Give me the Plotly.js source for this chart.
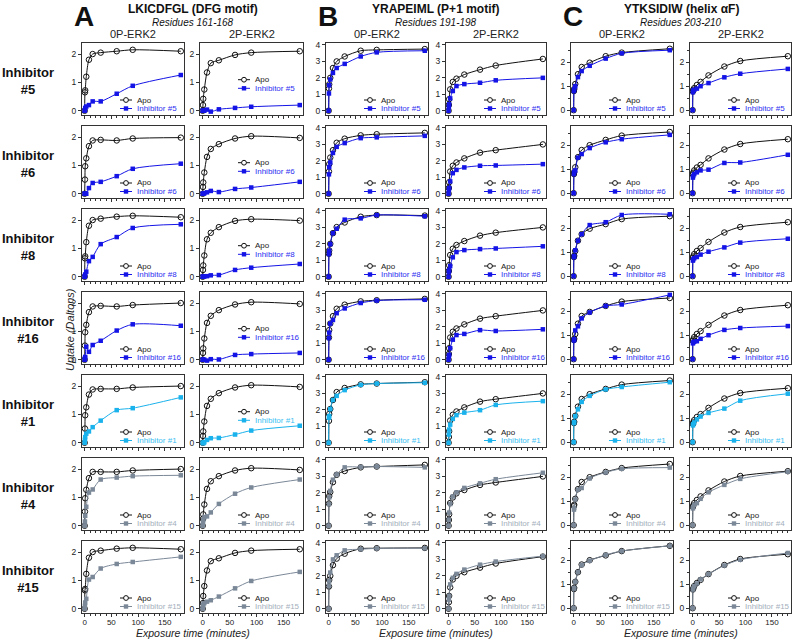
<!DOCTYPE html>
<html><head><meta charset="utf-8">
<script src="https://cdn.plot.ly/plotly-3.0.1.min.js"></script>
<style>body{margin:0;background:#fff}#chart{width:793px;height:640px}</style>
</head><body><div id="chart"></div>
<script>
// ---------------- DATA ----------------
const TIMES = [0, 0.5, 1, 3, 8, 15, 30, 60, 90, 180];
const INHIBITORS = ['#5', '#6', '#8', '#16', '#1', '#4', '#15'];
const STATES = ['0P-ERK2', '2P-ERK2'];
const PEPTIDES = ['LKICDFGL (DFG motif)', 'YRAPEIML (P+1 motif)', 'YTKSIDIW (helix αF)'];
const RESIDUES = ['Residues 161-168', 'Residues 191-198', 'Residues 203-210'];
const PANEL_LETTERS = ['A', 'B', 'C'];
const X_TICKS = [0, 50, 100, 150];

// Column A, 0P-ERK2 (rows: #5, #6, #8, #16, #1, #4, #15)
const A0_apo = [
  [0, 0.65, 0.72, 1.2, 1.8, 2.0, 2.05, 2.1, 2.15, 2.1],
  [0, 0.5, 0.97, 1.25, 1.68, 1.88, 1.9, 1.88, 1.95, 1.98],
  [0, 0.65, 0.72, 1.22, 1.8, 2.0, 2.05, 2.12, 2.15, 2.1],
  [0, 0.5, 0.97, 1.23, 1.68, 1.88, 1.9, 1.88, 1.93, 2.0],
  [0, 0.5, 0.97, 1.25, 1.7, 1.88, 1.9, 1.9, 1.95, 2.0],
  [0, 0.5, 0.97, 1.27, 1.68, 1.9, 1.9, 1.9, 1.95, 2.0],
  [0, 0.65, 0.7, 1.23, 1.8, 2.0, 2.05, 2.12, 2.15, 2.1]
];
const A0_inh = [
  [0, 0.02, 0.1, 0.15, 0.2, 0.33, 0.33, 0.6, 0.88, 1.26],
  [0, 0, 0, 0, 0.2, 0.38, 0.42, 0.62, 0.88, 1.06],
  [0, 0.03, 0.08, 0.18, 0.55, 0.7, 1.15, 1.4, 1.72, 1.85],
  [0, 0.05, 0.1, 0.46, 0.28, 0.52, 0.67, 1.03, 1.25, 1.2],
  [0, 0.1, 0.2, 0.32, 0.4, 0.55, 0.78, 1.15, 1.22, 1.6],
  [0, 0.15, 0.35, 0.67, 1.17, 1.28, 1.63, 1.7, 1.75, 1.78],
  [0, 0.1, 0.22, 0.35, 1.03, 1.12, 1.42, 1.58, 1.65, 1.83]
];
// Column A, 2P-ERK2
const A2_apo = [
  [0, 0.2, 0.42, 0.75, 1.35, 1.68, 1.78, 1.97, 2.05, 2.1],
  [0, 0.24, 0.4, 0.75, 1.3, 1.58, 1.75, 1.95, 2.03, 1.97],
  [0, 0.24, 0.4, 0.75, 1.32, 1.55, 1.75, 1.97, 2.03, 1.98],
  [0, 0.24, 0.4, 0.75, 1.3, 1.55, 1.75, 1.95, 2.03, 1.97],
  [0, 0.24, 0.4, 0.75, 1.3, 1.55, 1.75, 1.95, 2.03, 1.97],
  [0, 0.24, 0.4, 0.75, 1.3, 1.57, 1.75, 1.95, 2.03, 1.97],
  [0, 0.2, 0.45, 0.8, 1.35, 1.68, 1.78, 1.97, 2.05, 2.1]
];
const A2_inh = [
  [0, 0, 0, 0, 0.04, -0.03, 0.05, 0.1, 0.14, 0.2],
  [0, 0, 0, 0.02, 0.05, 0.1, 0.06, 0.17, 0.22, 0.42],
  [0, 0, 0, 0.01, 0.02, 0.05, 0.06, 0.24, 0.32, 0.45],
  [0, 0, 0, 0, -0.03, 0.02, 0.01, 0.17, 0.2, 0.24],
  [0, 0, -0.02, 0.02, 0.1, 0.16, 0.17, 0.29, 0.43, 0.6],
  [0, 0.12, 0.2, 0.3, 0.33, 0.47, 0.77, 1.13, 1.35, 1.63],
  [0, 0.1, 0.15, 0.2, 0.25, 0.3, 0.43, 0.72, 0.98, 1.3]
];
// Column B, 0P-ERK2
const B0_apo = [
  [0, 1.35, 1.6, 2.0, 2.6, 3.0, 3.3, 3.65, 3.7, 3.75],
  [0, 1.35, 1.8, 2.2, 2.65, 3.1, 3.35, 3.55, 3.62, 3.7],
  [0, 1.4, 1.6, 2.0, 2.65, 3.02, 3.3, 3.65, 3.75, 3.72],
  [0, 1.35, 1.8, 2.2, 2.65, 3.1, 3.35, 3.55, 3.62, 3.7],
  [0, 1.33, 1.75, 2.05, 2.6, 3.08, 3.33, 3.55, 3.6, 3.68],
  [0, 1.35, 1.8, 2.05, 2.65, 3.1, 3.33, 3.55, 3.6, 3.7],
  [0, 1.35, 1.75, 2.0, 2.65, 3.05, 3.35, 3.65, 3.68, 3.7]
];
const B0_inh = [
  [0, 1.05, 1.55, 1.9, 2.3, 2.6, 2.85, 3.3, 3.55, 3.65],
  [0, 1.18, 1.62, 1.9, 2.48, 2.85, 3.08, 3.38, 3.43, 3.52],
  [0, 1.38, 1.58, 1.98, 2.65, 2.92, 3.47, 3.55, 3.75, 3.68],
  [0, 1.32, 1.65, 2.2, 2.42, 2.83, 3.12, 3.45, 3.6, 3.65],
  [0, 1.52, 1.62, 2.05, 2.6, 2.85, 3.2, 3.52, 3.6, 3.65],
  [0, 1.32, 1.72, 2.12, 2.8, 3.12, 3.55, 3.57, 3.6, 3.55],
  [0, 1.4, 1.68, 2.2, 3.0, 3.25, 3.55, 3.62, 3.67, 3.68]
];
// Column B, 2P-ERK2
const B2_apo = [
  [0, 0.35, 0.7, 1.3, 1.75, 1.95, 2.2, 2.5, 2.75, 3.15],
  [0, 0.35, 0.7, 1.35, 1.7, 1.9, 2.15, 2.5, 2.65, 3.0],
  [0, 0.35, 0.7, 1.32, 1.7, 1.93, 2.17, 2.5, 2.68, 3.0],
  [0, 0.35, 0.7, 1.35, 1.7, 1.9, 2.15, 2.5, 2.65, 3.0],
  [0, 0.35, 0.7, 1.35, 1.7, 1.9, 2.15, 2.5, 2.65, 3.0],
  [0, 0.35, 0.7, 1.38, 1.72, 1.97, 2.17, 2.48, 2.63, 3.0],
  [0, 0.4, 0.78, 1.3, 1.78, 2.0, 2.22, 2.5, 2.75, 3.17]
];
const B2_inh = [
  [0, 0.25, 0.4, 0.75, 1.2, 1.5, 1.62, 1.7, 1.85, 2.0],
  [0, 0.25, 0.35, 0.75, 1.25, 1.45, 1.6, 1.7, 1.72, 1.8],
  [0, 0.3, 0.4, 0.65, 1.18, 1.5, 1.62, 1.68, 1.72, 1.85],
  [0, 0.22, 0.3, 0.7, 1.22, 1.5, 1.57, 1.8, 1.75, 1.85],
  [0, 0.5, 0.8, 1.1, 1.45, 1.68, 1.83, 1.98, 2.3, 2.53],
  [0, 0.36, 0.8, 1.32, 1.78, 2.02, 2.3, 2.58, 2.83, 3.22],
  [0, 0.55, 0.78, 1.48, 1.88, 2.12, 2.38, 2.68, 2.87, 3.2]
];
// Column C, 0P-ERK2
const C0_apo = [
  [0, 0.8, 0.88, 1.09, 1.5, 1.8, 1.98, 2.25, 2.4, 2.56],
  [0, 0.8, 0.88, 1.08, 1.5, 1.8, 2.0, 2.22, 2.4, 2.55],
  [0, 0.8, 0.85, 1.05, 1.48, 1.75, 1.98, 2.17, 2.38, 2.5],
  [0, 0.8, 0.85, 1.05, 1.48, 1.8, 1.97, 2.22, 2.4, 2.55],
  [0, 0.8, 0.85, 1.1, 1.48, 1.8, 2.0, 2.22, 2.4, 2.57],
  [0, 0.8, 0.85, 1.1, 1.5, 1.8, 2.0, 2.22, 2.38, 2.55],
  [0, 0.8, 0.85, 1.1, 1.5, 1.82, 2.0, 2.2, 2.38, 2.6]
];
const C0_inh = [
  [0, 0.8, 0.88, 1.0, 1.38, 1.63, 1.85, 2.15, 2.37, 2.5],
  [0, 0.8, 0.88, 0.95, 1.48, 1.63, 1.88, 2.12, 2.25, 2.43],
  [0, 0.8, 0.84, 1.08, 1.48, 1.75, 2.13, 2.25, 2.55, 2.58],
  [0, 0.78, 0.83, 1.2, 1.37, 1.7, 1.95, 2.22, 2.28, 2.68],
  [0, 0.8, 0.84, 1.08, 1.37, 1.68, 1.93, 2.2, 2.3, 2.5],
  [0, 0.65, 0.72, 1.07, 1.48, 1.55, 1.95, 2.2, 2.35, 2.4],
  [0, 0.82, 0.84, 1.1, 1.5, 1.8, 1.98, 2.22, 2.38, 2.6]
];
// Column C, 2P-ERK2
const C2_apo = [
  [0, 0.78, 0.85, 0.92, 1.05, 1.18, 1.45, 1.82, 2.05, 2.25],
  [0, 0.78, 0.85, 0.95, 1.07, 1.18, 1.45, 1.82, 2.05, 2.25],
  [0, 0.76, 0.82, 0.92, 1.05, 1.17, 1.43, 1.82, 2.05, 2.25],
  [0, 0.76, 0.82, 0.92, 1.05, 1.17, 1.43, 1.82, 2.05, 2.25],
  [0, 0.76, 0.82, 0.92, 1.05, 1.17, 1.43, 1.82, 2.05, 2.25],
  [0, 0.76, 0.82, 0.92, 1.05, 1.2, 1.45, 1.82, 2.05, 2.25],
  [0, 0.78, 0.82, 0.92, 1.05, 1.18, 1.42, 1.8, 2.05, 2.25]
];
const C2_inh = [
  [0, 0.75, 0.82, 0.85, 0.9, 1.0, 1.13, 1.37, 1.52, 1.72],
  [0, 0.65, 0.72, 0.8, 0.87, 0.95, 0.98, 1.26, 1.28, 1.6],
  [0, 0.65, 0.7, 0.75, 0.8, 0.9, 1.02, 1.2, 1.4, 1.56],
  [0, 0.66, 0.7, 0.73, 0.75, 0.85, 1.0, 1.22, 1.3, 1.38],
  [0, 0.7, 0.75, 0.82, 0.95, 1.07, 1.22, 1.4, 1.73, 2.02],
  [0, 0.7, 0.76, 0.85, 0.92, 1.1, 1.37, 1.68, 1.93, 2.23],
  [0, 0.78, 0.82, 0.92, 1.03, 1.2, 1.42, 1.78, 2.02, 2.3]
];

// ---------------- STYLE / LAYOUT ----------------
const W = 793, H = 640;
const FONT = 'Liberation Sans, Arial, Helvetica, sans-serif';
const COL_LEFT = [82, 200, 326, 446, 571, 690];
const COL_RIGHT = [184, 303, 428, 546, 673, 791];
const ROW_TOP0 = 43, ROW_PITCH = 83, ROW_H = 72;
const YRANGES = [[-0.15, 2.39], [-0.15, 2.39], [-0.26, 4.12], [-0.26, 4.12], [-0.2, 2.8], [-0.2, 2.8]];
const YMINOR = [false, false, false, false, true, true];
const INH_COLORS = ['#1414e6', '#1414e6', '#1414e6', '#1414e6', '#1ab2ec', '#7b8898', '#7b8898'];
const INH_TEXT = ['#2e2ef0', '#2e2ef0', '#2e2ef0', '#2e2ef0', '#3cbff2', '#a4afbb', '#a4afbb'];
const APO_COLOR = '#111111';
const AXIS_COLOR = '#333333';

const APO = [A0_apo, A2_apo, B0_apo, B2_apo, C0_apo, C2_apo];
const INH = [A0_inh, A2_inh, B0_inh, B2_inh, C0_inh, C2_inh];

const px = v => v / W;
const py = v => 1 - v / H;

const traces = [];
const annotations = [];
const shapes = [];
const layout = {
  width: W, height: H,
  margin: {l: 0, r: 0, t: 0, b: 0, pad: 0},
  paper_bgcolor: '#ffffff', plot_bgcolor: '#ffffff',
  showlegend: false,
  font: {family: FONT, color: '#222', size: 8}
};

for (let r = 0; r < 7; r++) {
  const top = ROW_TOP0 + r * ROW_PITCH, bot = top + ROW_H;
  for (let c = 0; c < 6; c++) {
    const k = r * 6 + c + 1;
    const sfx = k === 1 ? '' : String(k);
    const L = COL_LEFT[c], R = COL_RIGHT[c];
    layout['xaxis' + sfx] = {
      domain: [px(L), px(R)], anchor: 'y' + sfx, range: [-5, 186],
      tickvals: X_TICKS, ticks: 'outside', ticklen: 3, tickwidth: 1, tickcolor: AXIS_COLOR,
      minor: {dtick: 10, tick0: 0, ticks: 'outside', ticklen: 2, tickwidth: 1, tickcolor: AXIS_COLOR},
      showticklabels: r === 6, tickfont: {size: 8, color: '#222', family: FONT},
      ticklabelstandoff: -2,
      showline: true, mirror: true, linecolor: AXIS_COLOR, linewidth: 1,
      showgrid: false, zeroline: false, fixedrange: true
    };
    const ya = {
      domain: [py(bot), py(top)], anchor: 'x' + sfx, range: YRANGES[c],
      dtick: 1, tick0: 0, ticks: 'outside', ticklen: 3, tickwidth: 1, tickcolor: AXIS_COLOR,
      tickfont: {size: 8.5, color: '#222', family: FONT},
      showline: true, mirror: true, linecolor: AXIS_COLOR, linewidth: 1,
      showgrid: false, zeroline: false, fixedrange: true
    };
    if (YMINOR[c]) ya.minor = {dtick: 0.5, tick0: 0, ticks: 'outside', ticklen: 2, tickwidth: 1, tickcolor: AXIS_COLOR};
    layout['yaxis' + sfx] = ya;

    const name = 'Inhibitor ' + INHIBITORS[r];
    traces.push({
      x: TIMES, y: APO[c][r], xaxis: 'x' + sfx, yaxis: 'y' + sfx, name: 'Apo',
      type: 'scatter', mode: 'lines+markers', cliponaxis: false,
      line: {shape: 'spline', smoothing: 0.8, color: APO_COLOR, width: 1},
      marker: {symbol: 'circle-open', size: 5.5, color: APO_COLOR, line: {width: 1, color: APO_COLOR}}
    });
    traces.push({
      x: TIMES, y: INH[c][r], xaxis: 'x' + sfx, yaxis: 'y' + sfx, name: name,
      type: 'scatter', mode: 'lines+markers', cliponaxis: false,
      line: {shape: 'spline', smoothing: 0.8, color: INH_COLORS[r], width: 1},
      marker: {symbol: 'square', size: 4.5, color: INH_COLORS[r]}
    });

    // legend (drawn as decorations so that its spacing matches the figure)
    const rowsY = (c === 1 && r <= 4) ? [top + 36.7, top + 45.3] : [bot - 15, bot - 6.5];
    const entries = [
      {y: rowsY[0], color: APO_COLOR, text: 'Apo', textColor: '#222', open: true},
      {y: rowsY[1], color: INH_COLORS[r], text: name, textColor: INH_TEXT[r], open: false}
    ];
    entries.forEach(e => {
      shapes.push({type: 'line', xref: 'paper', yref: 'paper',
        x0: px(L + 38), x1: px(L + 50), y0: py(e.y), y1: py(e.y),
        line: {color: e.color, width: 1}});
      if (e.open) {
        shapes.push({type: 'circle', xref: 'paper', yref: 'paper',
          x0: px(L + 41.6), x1: px(L + 46.4), y0: py(e.y + 2.4), y1: py(e.y - 2.4),
          line: {color: e.color, width: 1}, fillcolor: '#ffffff'});
      } else {
        shapes.push({type: 'rect', xref: 'paper', yref: 'paper',
          x0: px(L + 41.8), x1: px(L + 46.2), y0: py(e.y + 2.2), y1: py(e.y - 2.2),
          line: {width: 0}, fillcolor: e.color});
      }
      annotations.push({xref: 'paper', yref: 'paper', x: px(L + 53), y: py(e.y),
        xanchor: 'left', yanchor: 'middle', showarrow: false, text: e.text,
        font: {size: 8, color: e.textColor, family: FONT}});
    });

    if (r === 0) {
      annotations.push({xref: 'paper', yref: 'paper', x: px((L + R) / 2), y: py(top - 1),
        xanchor: 'center', yanchor: 'bottom', showarrow: false, text: STATES[c % 2],
        font: {size: 11, color: '#222', family: FONT}});
    }
  }
  // row labels
  annotations.push({xref: 'paper', yref: 'paper', x: px(28), y: py(top + 38),
    xanchor: 'center', yanchor: 'middle', showarrow: false,
    text: '<b>Inhibitor<br>' + INHIBITORS[r] + '</b>',
    font: {size: 13, color: '#111', family: FONT}});
}

// column group headers and x titles
for (let g = 0; g < 3; g++) {
  const L = COL_LEFT[2 * g], R = COL_RIGHT[2 * g + 1];
  const cx = (L + R) / 2;
  annotations.push({xref: 'paper', yref: 'paper', x: px(cx), y: py(9), xanchor: 'center', yanchor: 'middle',
    showarrow: false, text: '<b>' + PEPTIDES[g] + '</b>', font: {size: 12, color: '#111', family: FONT}});
  annotations.push({xref: 'paper', yref: 'paper', x: px(cx), y: py(22), xanchor: 'center', yanchor: 'middle',
    showarrow: false, text: '<i>' + RESIDUES[g] + '</i>', font: {size: 10, color: '#111', family: FONT}});
  annotations.push({xref: 'paper', yref: 'paper', x: px(L + 2), y: py(16), xanchor: 'center', yanchor: 'middle',
    showarrow: false, text: '<b>' + PANEL_LETTERS[g] + '</b>', font: {size: 28, color: '#111', family: FONT}});
  annotations.push({xref: 'paper', yref: 'paper', x: px(cx), y: py(640), xanchor: 'center', yanchor: 'bottom',
    showarrow: false, borderpad: 0, text: '<i>Exposure time (minutes)</i>', font: {size: 10.5, color: '#222', family: FONT}});
}
annotations.push({xref: 'paper', yref: 'paper', x: px(70), y: py(330), xanchor: 'center', yanchor: 'middle',
  showarrow: false, textangle: -90, text: '<i>Uptake (Daltons)</i>', font: {size: 11, color: '#222', family: FONT}});

layout.annotations = annotations;
layout.shapes = shapes;

Plotly.newPlot('chart', traces, layout, {staticPlot: true, displayModeBar: false});
</script>
</body></html>
